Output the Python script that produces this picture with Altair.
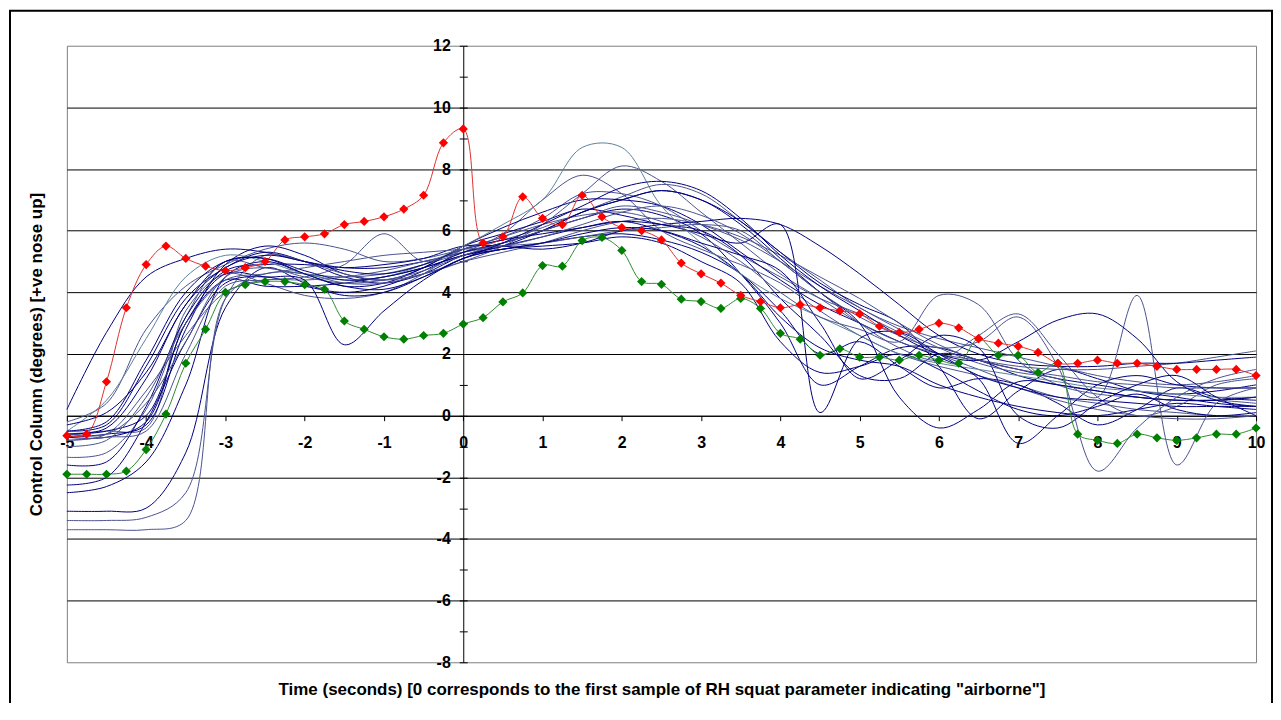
import altair as alt
import pandas as pd

# ---------------- data ----------------
t_navy = [-5, -4.5, -4, -3.5, -3, -2.5, -2, -1.5, -1, -0.5, 0, 0.5, 1, 1.5, 2, 2.5,
          3, 3.5, 4, 4.5, 5, 5.5, 6, 6.5, 7, 7.5, 8, 8.5, 9, 9.5, 10]

navy = {
    "n01": [0.2, 2.7, 4.5, 5.1, 5.4, 5.3, 5.0, 4.8, 4.8, 5.0, 5.3, 5.6, 6.0, 6.4, 6.7, 6.5, 5.9, 4.6, 3.0, 1.0, 1.6, 2.2, 2.2, 1.8, 1.5, 1.2, 1.0, 0.8, 0.7, 0.8, 1.0],
    "n02": [-0.2, 0.4, 2.8, 4.2, 4.9, 5.4, 5.6, 5.4, 5.0, 5.1, 5.4, 5.7, 6.1, 6.6, 7.1, 7.5, 7.2, 6.3, 5.3, 4.4, 3.5, 2.9, 2.5, 2.2, 1.9, 1.6, 1.3, 1.1, 1.0, 1.1, 1.3],
    "n03": [-0.5, -0.3, 1.6, 3.8, 4.8, 5.3, 5.0, 4.5, 4.3, 4.6, 5.2, 5.5, 5.8, 6.1, 6.3, 6.0, 5.5, 4.6, 3.2, 2.2, 1.8, 1.6, 1.0, 0.6, 0.3, 0.1, 0.0, 0.2, 0.4, 0.3, 0.2],
    "n04": [-0.6, -0.5, -0.4, 3.4, 4.6, 4.3, 3.9, 3.8, 4.0, 4.6, 5.4, 5.8, 6.4, 7.2, 7.2, 6.8, 6.0, 5.2, 4.5, 3.8, 3.3, 2.7, 2.0, 1.5, 1.0, 0.6, 0.4, 0.2, 0.1, 0.0, 0.0],
    "n05": [-0.7, -0.6, -0.3, 2.8, 4.9, 5.5, 5.2, 4.6, 4.4, 4.8, 5.5, 5.9, 6.3, 6.7, 6.5, 6.2, 6.0, 5.2, 3.8, 2.6, 1.3, 1.2, 2.0, 1.8, 1.3, 1.0, 0.8, 0.6, 0.5, 0.5, 0.6],
    "n06": [-0.7, -0.7, -0.2, 3.0, 4.4, 4.2, 4.2, 4.3, 4.5, 4.8, 5.2, 5.4, 5.6, 5.8, 5.9, 5.7, 5.3, 4.6, 3.4, 2.0, 2.4, 1.6, 0.9, 1.2, 1.0, 0.4, -0.3, 0.2, 0.9, 0.6, 0.5],
    "n07": [-0.8, -0.6, 0.8, 2.6, 4.0, 4.4, 4.4, 4.5, 4.7, 5.0, 5.3, 5.5, 5.6, 5.8, 6.0, 6.1, 6.2, 6.0, 5.0, 4.0, 3.0, 2.2, 1.8, 2.6, 3.3, 2.0, 0.6, 0.0, 0.3, 1.0, 1.2],
    "n08": [-1.35, -1.2, 0.2, 3.2, 5.0, 4.8, 4.6, 4.5, 4.6, 4.9, 5.3, 5.9, 7.0, 7.8, 7.2, 6.0, 5.4, 4.9, 4.3, 3.4, 2.6, 2.0, 1.6, 1.3, 0.9, 0.5, 0.2, 0.0, -0.1, -0.1, 0.0],
    "n09": [-2.25, -2.0, -0.2, 2.4, 4.3, 4.5, 4.2, 4.0, 4.2, 4.7, 5.3, 5.6, 6.0, 6.6, 7.0, 7.3, 7.0, 6.3, 5.3, 4.3, 3.6, 3.0, 1.6, -0.1, 0.8, 1.5, 1.2, 0.8, 0.6, 0.4, 0.3],
    "n10": [-2.5, -2.3, -1.5, 1.0, 4.5, 5.0, 4.6, 4.2, 4.3, 4.8, 5.5, 6.1, 6.6, 7.0, 7.0, 6.8, 6.2, 5.3, 4.4, 3.6, 3.0, 2.4, 1.9, 1.2, -0.9, 0.0, 1.0, 1.3, 1.0, 0.9, 0.9],
    "n11": [-3.1, -3.1, -3.0, -1.2, 3.5, 4.8, 4.3, 3.9, 4.0, 4.5, 5.1, 5.4, 5.5, 5.6, 5.8, 5.6, 5.0, 4.3, 2.4, 1.4, 1.6, 2.0, 1.5, 0.8, 0.2, 0.0, 0.3, 0.7, 0.2, 0.0, 0.1],
    "n12": [-3.7, -3.7, -3.7, -3.4, 3.8, 4.6, 4.6, 4.3, 4.3, 4.6, 5.0, 5.3, 5.6, 6.0, 6.3, 6.4, 6.2, 5.8, 5.2, 4.5, 3.8, 3.0, 2.3, 1.8, 1.5, 1.3, 1.1, 1.0, 0.9, 0.9, 0.9],
    "n13": [-3.4, -3.4, -3.3, -2.5, 3.8, 5.2, 5.0, 4.6, 4.4, 4.6, 5.0, 5.5, 6.2, 7.2, 8.1, 7.6, 6.6, 5.6, 4.6, 3.8, 3.0, 2.4, 2.0, 1.8, 1.6, 1.5, 1.5, 1.6, 1.7, 1.9, 2.1],
    "n14": [-1.6, -1.5, 0.3, 3.2, 4.7, 4.9, 4.9, 4.8, 4.9, 5.1, 5.5, 5.5, 5.4, 5.6, 6.0, 6.2, 6.3, 6.4, 6.2, 5.5, 4.6, 3.6, 2.6, 2.0, 1.7, 1.6, 1.6, 1.7, 1.7, 1.8, 1.9],
    "n15": [-0.5, 0.5, 2.5, 4.5, 5.2, 5.0, 4.6, 4.4, 4.5, 4.9, 5.5, 6.2, 7.0, 8.7, 8.7, 6.8, 5.6, 4.6, 3.8, 3.2, 2.6, 2.0, 1.7, 1.5, 1.3, 1.1, 0.9, 0.8, 0.7, 0.6, 0.6],
    "n16": [-0.6, -0.4, 1.2, 3.6, 4.8, 5.2, 5.0, 4.7, 4.6, 4.9, 5.4, 5.7, 5.9, 6.1, 6.3, 6.2, 5.9, 5.6, 6.2, 0.1, 2.5, 2.7, 2.0, 1.3, 0.9, 0.6, 0.5, 0.4, 0.3, 0.3, 0.3],
    "n17": [-0.6, -0.5, 0.0, 3.0, 4.6, 4.5, 4.4, 2.3, 3.4, 4.4, 5.1, 5.4, 5.6, 5.9, 6.1, 6.0, 5.6, 5.2, 4.7, 3.0, 1.2, 1.8, 2.6, 2.2, 0.0, -0.4, 0.4, 1.0, 1.3, 0.6, 0.0],
    "n18": [-0.8, -0.7, -0.5, 2.0, 4.2, 4.4, 4.5, 4.9, 5.9, 5.0, 5.4, 5.8, 6.2, 6.5, 6.6, 6.3, 5.8, 5.0, 4.0, 3.2, 2.8, 2.4, 3.9, 3.6, 1.8, 1.0, 0.7, 0.6, 0.5, 0.5, 0.4],
    "n19": [-0.3, 0.1, 1.4, 3.6, 5.0, 5.1, 4.7, 4.4, 4.5, 4.8, 5.2, 5.5, 6.0, 6.6, 7.0, 7.3, 7.0, 6.2, 5.1, 4.0, 3.0, 0.6, -0.4, 0.2, 1.1, 1.0, 0.8, 0.6, 0.5, 0.5, 0.6],
    "n20": [-0.6, -0.6, 0.4, 2.4, 4.5, 4.8, 4.5, 4.3, 4.4, 4.7, 5.2, 5.6, 6.0, 6.4, 6.8, 6.6, 6.2, 5.7, 5.0, 4.2, 3.5, 2.8, 2.2, 1.7, 1.4, 1.2, 0.6, 3.9, -1.6, 0.4, 0.9],
    "n21": [-1.0, -0.8, 0.6, 3.0, 4.4, 4.6, 4.8, 5.0, 5.2, 5.3, 5.4, 5.5, 5.8, 6.2, 6.6, 6.8, 6.5, 5.9, 5.0, 4.0, 3.2, 2.6, 2.2, 2.4, 3.2, 1.6, -1.8, -0.4, 0.6, 1.2, 1.5],
    "n22": [-0.5, -0.2, 1.8, 4.0, 5.0, 5.1, 4.6, 4.2, 4.1, 4.5, 5.1, 5.6, 6.2, 6.8, 7.4, 7.6, 7.3, 6.4, 5.2, 4.2, 3.4, 2.6, 2.0, 1.8, 2.4, 3.1, 3.3, 2.5, 1.1, 0.5, 0.3],
}
light_series = ["n04", "n08", "n12", "n13", "n18", "n20", "n21", "n02", "n07"]
teal_series = ["n15"]

t_marked = [-5, -4.75, -4.5, -4.25, -4, -3.75, -3.5, -3.25, -3, -2.75, -2.5, -2.25,
            -2, -1.75, -1.5, -1.25, -1, -0.75, -0.5, -0.25, 0, 0.25, 0.5, 0.75,
            1, 1.25, 1.5, 1.75, 2, 2.25, 2.5, 2.75, 3, 3.25, 3.5, 3.75, 4, 4.25,
            4.5, 4.75, 5, 5.25, 5.5, 5.75, 6, 6.25, 6.5, 6.75, 7, 7.25, 7.5, 7.75,
            8, 8.25, 8.5, 8.75, 9, 9.25, 9.5, 9.75, 10]

red_vals = [-0.65, -0.6, 1.1, 3.5, 4.9, 5.5, 5.1, 4.85, 4.7, 4.8, 5.0, 5.7,
            5.8, 5.9, 6.2, 6.3, 6.45, 6.7, 7.15, 8.85, 9.3, 5.6, 5.8, 7.1,
            6.4, 6.2, 7.15, 6.45, 6.1, 6.0, 5.7, 4.95, 4.6, 4.3, 3.9, 3.7, 3.5, 3.6,
            3.5, 3.4, 3.3, 2.9, 2.7, 2.8, 3.0, 2.85, 2.5, 2.35, 2.25, 2.05, 1.7, 1.7,
            1.8, 1.7, 1.7, 1.6, 1.5, 1.5, 1.5, 1.5, 1.3]

green_vals = [-1.9, -1.9, -1.9, -1.8, -1.1, 0.05, 1.7, 2.8, 4.0, 4.25, 4.35, 4.35,
              4.25, 4.1, 3.07, 2.8, 2.56, 2.48, 2.6, 2.67, 2.97, 3.18, 3.69, 3.98,
              4.87, 4.85, 5.68, 5.78, 5.36, 4.35, 4.26, 3.78, 3.7, 3.48, 3.8, 3.48, 2.67, 2.48,
              1.96, 2.17, 1.9, 1.9, 1.8, 1.96, 1.8, 1.7, 2.5, 1.96, 1.96, 1.4, 1.7, -0.6,
              -0.8, -0.9, -0.6, -0.72, -0.8, -0.72, -0.6, -0.6, -0.4]

x_ticks = [-5, -4, -3, -2, -1, 0, 1, 2, 3, 4, 5, 6, 7, 8, 9, 10]
y_ticks = [-8, -7, -6, -5, -4, -3, -2, -1, 0, 1, 2, 3, 4, 5, 6, 7, 8, 9, 10, 11, 12]
y_grid = [-6, -4, -2, 0, 2, 4, 6, 8, 10]

x_title = 'Time (seconds) [0 corresponds to the first sample of RH squat parameter indicating "airborne"]'
y_title = "Control Column (degrees) [+ve nose up]"

# ---------------- tables ----------------
rows = []
for name, vals in navy.items():
    shade = "teal" if name in teal_series else ("light" if name in light_series else "dark")
    for tt, vv in zip(t_navy, vals):
        rows.append({"t": tt, "v": vv, "series": name, "shade": shade})
navy_df = pd.DataFrame(rows)
red_df = pd.DataFrame({"t": t_marked, "v": red_vals})
green_df = pd.DataFrame({"t": t_marked, "v": green_vals})
frame_df = pd.DataFrame({"k": [0]})

# ---------------- chart ----------------
W, H = 1192, 618
FONT = "Liberation Sans"
XS = alt.Scale(domain=[-5, 10], nice=False, zero=False)
YS = alt.Scale(domain=[-8, 12], nice=False, zero=False)

ax_frame_x = alt.Axis(orient="bottom", title=x_title, labels=False, ticks=False,
                      domain=False, grid=False, titleFont=FONT, titleFontSize=17,
                      titleFontWeight="bold", titleColor="black", titlePadding=19)
ax_frame_y = alt.Axis(orient="left", title=y_title, labels=False, ticks=False,
                      domain=False, grid=True, gridColor="black", gridWidth=1,
                      gridOpacity=1, values=y_grid, titleFont=FONT, titleFontSize=17,
                      titleFontWeight="bold", titleColor="black", titlePadding=21)
ax_zero_x = alt.Axis(orient="bottom", offset=-H * 8 / 20, values=x_ticks,
                     labelExpr="'' + datum.value", title=None, grid=False,
                     domainColor="black", domainWidth=1, tickColor="black",
                     tickSize=5, tickWidth=1, labelFont=FONT, labelFontSize=16,
                     labelFontWeight="bold", labelColor="black", labelPadding=14,
                     labelFlush=False, labelOverlap=False)
ax_zero_y = alt.Axis(orient="left", offset=-W / 3, values=y_ticks,
                     labelExpr="datum.value % 2 === 0 ? '' + datum.value : ''",
                     title=None, grid=False, domainColor="black", domainWidth=1,
                     tickColor="black", tickSize=4, tickWidth=1, labelFont=FONT,
                     labelFontSize=16, labelFontWeight="bold", labelColor="black",
                     labelPadding=9, labelFlush=False, labelOverlap=False)
ax_twin_y = alt.Axis(orient="right", offset=-W * 2 / 3, values=y_ticks, labels=False,
                     title=None, grid=False, domain=False, tickColor="black",
                     tickSize=4, tickWidth=1)

navy_layer = alt.Chart(navy_df).mark_line(interpolate="catmull-rom", strokeWidth=1).encode(
    x=alt.X("t:Q", scale=XS, axis=ax_frame_x),
    y=alt.Y("v:Q", scale=YS, axis=ax_frame_y),
    detail="series:N",
    color=alt.Color("shade:N", scale=alt.Scale(domain=["dark", "light", "teal"],
                                               range=["#000080", "#4a5290", "#5b8399"]),
                    legend=None),
)

green_line = alt.Chart(green_df).mark_line(interpolate="catmull-rom", strokeWidth=1,
                                           color="#2e8b2e").encode(
    x=alt.X("t:Q", scale=XS, axis=None),
    y=alt.Y("v:Q", scale=YS, axis=ax_twin_y),
)
green_pts = alt.Chart(green_df).mark_point(shape="diamond", filled=True, size=85,
                                           color="#008000", opacity=1).encode(
    x=alt.X("t:Q", scale=XS, axis=None),
    y=alt.Y("v:Q", scale=YS, axis=None),
)
red_line = alt.Chart(red_df).mark_line(interpolate="catmull-rom", strokeWidth=1,
                                       color="#e03030").encode(
    x=alt.X("t:Q", scale=XS, axis=ax_zero_x),
    y=alt.Y("v:Q", scale=YS, axis=ax_zero_y),
)
red_pts = alt.Chart(red_df).mark_point(shape="diamond", filled=True, size=85,
                                       color="#ff0000", opacity=1).encode(
    x=alt.X("t:Q", scale=XS, axis=None),
    y=alt.Y("v:Q", scale=YS, axis=None),
)

frame = alt.Chart(frame_df).mark_rect(fill=None, stroke="black", strokeWidth=2).encode(
    x=alt.value(-57), x2=alt.value(1208), y=alt.value(-35), y2=alt.value(700),
)

chart = alt.layer(
    frame, navy_layer, green_line, green_pts, red_line, red_pts
).resolve_axis(x="independent", y="independent").properties(
    width=W, height=H,
    autosize=alt.AutoSizeParams(type="none"),
    padding={"left": 59, "top": 37, "right": 17, "bottom": 40},
    background="white",
).configure_view(stroke="#808080", strokeWidth=1)

chart.save("out.html", embed_options={"renderer": "svg", "actions": False})
